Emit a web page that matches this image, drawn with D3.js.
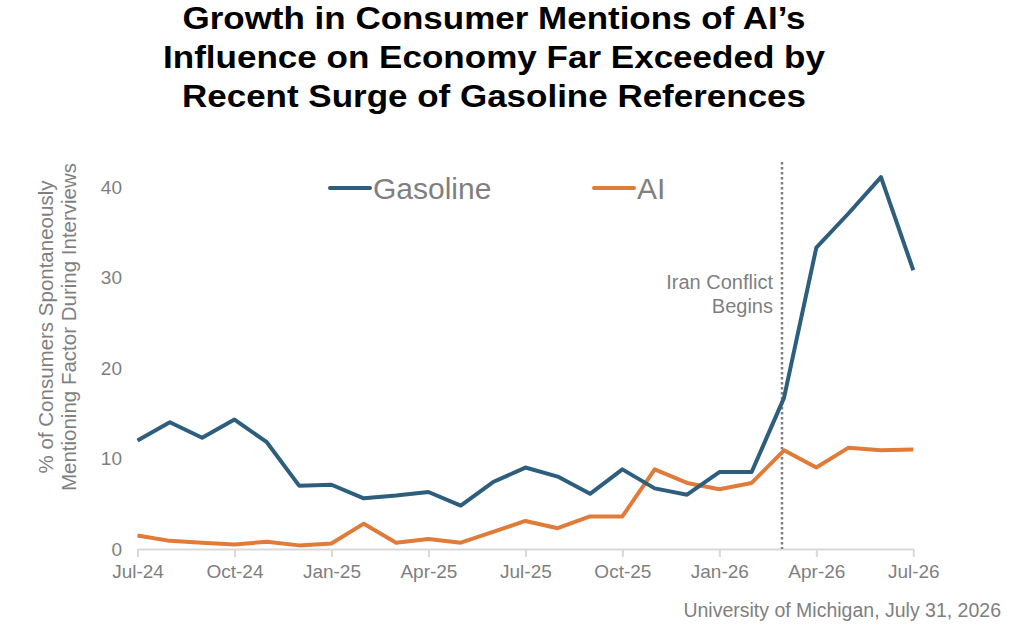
<!DOCTYPE html>
<html>
  <head>
    <title>Gasoline vs AI mentions</title>
    <script type="text/javascript" src="https://cdnjs.cloudflare.com/ajax/libs/d3/7.8.5/d3.min.js"></script>
    <style>
      body { margin: 0; background: #fff; }
      text { font-family: "Liberation Sans", Arial, sans-serif; }
    </style>
  </head>
  <body>
  <script>

    var months = ['Jul-24','Aug-24','Sep-24','Oct-24','Nov-24','Dec-24','Jan-25','Feb-25','Mar-25',
                  'Apr-25','May-25','Jun-25','Jul-25','Aug-25','Sep-25','Oct-25','Nov-25','Dec-25',
                  'Jan-26','Feb-26','Mar-26','Apr-26','May-26','Jun-26','Jul-26'];

    var gasoline = [12.0, 14.0, 12.3, 14.3, 11.8, 7.0, 7.1, 5.6, 5.9, 6.3, 4.8, 7.4, 9.0,
                    8.0, 6.1, 8.8, 6.7, 6.0, 8.5, 8.5, 16.7, 33.3, 37.1, 41.1, 30.8];

    var ai = [1.5, 0.9, 0.7, 0.5, 0.8, 0.4, 0.6, 2.8, 0.7, 1.1, 0.7, 1.9, 3.1,
              2.3, 3.6, 3.6, 8.8, 7.3, 6.6, 7.3, 10.9, 9.0, 11.2, 10.9, 11.0];

    var xTickLabels = ['Jul-24','Oct-24','Jan-25','Apr-25','Jul-25','Oct-25','Jan-26','Apr-26','Jul-26'];
    var yTicks = [0, 10, 20, 30, 40];

    var titleLines = ['Growth in Consumer Mentions of AI\u2019s',
                      'Influence on Economy Far Exceeded by',
                      'Recent Surge of Gasoline References'];
    var eventMonth = 'Mar-26';

    var gray = '#7f7f7f';
    var blue = '#2e5e7e';
    var orange = '#e07b3a';

    var svg = d3.select('body')
              .append('svg')
              .attr('width', 1024)
              .attr('height', 639);

    // title, squeezed a bit like the original
    var titleWidths = [623, 662, 624];
    svg.selectAll('.title')
      .data(titleLines)
      .enter()
      .append('text')
      .attr('class', 'title')
      .attr('x', 494)
      .attr('y', function(d, i) { return 28.5 + i * 39.2; })
      .attr('text-anchor', 'middle')
      .attr('font-size', 32)
      .attr('font-weight', 'bold')
      .attr('fill', '#000')
      .attr('textLength', function(d, i) { return titleWidths[i]; })
      .attr('lengthAdjust', 'spacingAndGlyphs')
      .text(function(d) { return d; });

    var x = d3.scalePoint()
      .domain(months)
      .range([137.5, 913.3]);

    var y = d3.scaleLinear()
      .domain([0, 45])
      .range([549, 141.75]);

    // x axis
    var xAxis = d3.axisBottom(x)
      .tickValues(xTickLabels)
      .tickSize(8)
      .tickSizeOuter(0)
      .tickPadding(8);

    var gx = svg.append('g')
      .attr('transform', 'translate(0,549)')
      .call(xAxis);
    gx.select('.domain').attr('stroke', '#d9d9d9').attr('stroke-width', 2);
    gx.selectAll('.tick line').attr('stroke', '#d9d9d9').attr('stroke-width', 2);
    gx.selectAll('.tick text')
      .attr('font-size', 19)
      .attr('fill', gray)
      .attr('font-family', '"Liberation Sans", Arial, sans-serif');

    // y axis, labels only
    var gy = svg.append('g')
      .attr('transform', 'translate(122,0)')
      .call(d3.axisLeft(y).tickValues(yTicks).tickSize(0).tickPadding(0));
    gy.select('.domain').remove();
    gy.selectAll('.tick text')
      .attr('font-size', 19)
      .attr('fill', gray)
      .attr('font-family', '"Liberation Sans", Arial, sans-serif');

    // y axis title
    var yTitle = svg.append('text')
      .attr('transform', 'translate(0,327) rotate(-90)')
      .attr('text-anchor', 'middle')
      .attr('font-size', 20.5)
      .attr('fill', gray);
    yTitle.append('tspan').attr('x', 0).attr('y', 52.5).text('% of Consumers Spontaneously');
    yTitle.append('tspan').attr('x', 0).attr('y', 75.5).text('Mentioning Factor During Interviews');

    // event marker
    svg.append('line')
      .attr('x1', x(eventMonth) - 2)
      .attr('x2', x(eventMonth) - 2)
      .attr('y1', 162)
      .attr('y2', 549)
      .attr('stroke', gray)
      .attr('stroke-width', 2.5)
      .attr('stroke-dasharray', '2.5,2.5');

    var ev = svg.append('text')
      .attr('text-anchor', 'end')
      .attr('font-size', 20)
      .attr('fill', gray);
    ev.append('tspan').attr('x', 773).attr('y', 288.5).text('Iran Conflict');
    ev.append('tspan').attr('x', 773).attr('y', 312.5).text('Begins');

    // lines
    var line = d3.line()
      .x(function(d, i) { return x(months[i]); })
      .y(function(d) { return y(d); });

    svg.append('path')
      .datum(ai)
      .attr('d', line)
      .attr('fill', 'none')
      .attr('stroke', orange)
      .attr('stroke-width', 4)
      .attr('stroke-linejoin', 'round');

    svg.append('path')
      .datum(gasoline)
      .attr('d', line)
      .attr('fill', 'none')
      .attr('stroke', blue)
      .attr('stroke-width', 4)
      .attr('stroke-linejoin', 'round');

    // legend
    var legend = [
      { name: 'Gasoline', color: blue, x: 330 },
      { name: 'AI', color: orange, x: 594 }
    ];
    var lg = svg.selectAll('.legend')
      .data(legend)
      .enter()
      .append('g')
      .attr('class', 'legend')
      .attr('transform', function(d) { return 'translate(' + d.x + ',188)'; });
    lg.append('line')
      .attr('x1', 0).attr('x2', 40)
      .attr('stroke', function(d) { return d.color; })
      .attr('stroke-width', 4)
      .attr('stroke-linecap', 'round');
    lg.append('text')
      .attr('x', 43)
      .attr('y', 10.5)
      .attr('font-size', 30)
      .attr('fill', gray)
      .text(function(d) { return d.name; });

    // source
    svg.append('text')
      .attr('x', 1001)
      .attr('y', 617)
      .attr('text-anchor', 'end')
      .attr('font-size', 19.5)
      .attr('fill', gray)
      .text('University of Michigan, July 31, 2026');

  </script>
 </body>
</html>
